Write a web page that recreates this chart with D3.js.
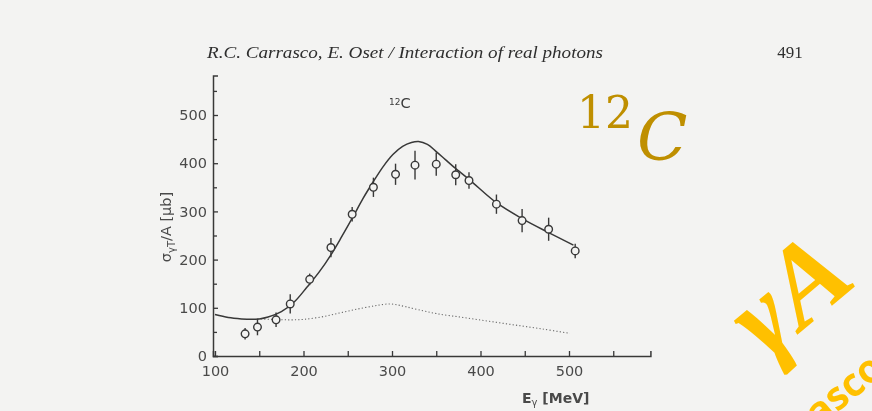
<!DOCTYPE html>
<html>
<head>
<meta charset="utf-8">
<script src="https://cdn.jsdelivr.net/npm/d3@7"></script>
<style>
  html, body { margin: 0; padding: 0; background: #f3f3f2; overflow: hidden; }
  svg { display: block; }
</style>
</head>
<body>
<svg id="chart" width="872" height="411"></svg>
<script>
// Measured total photoabsorption cross section per nucleon, 12C
const measE     = [134, 148, 169, 185, 207, 231, 255, 279, 304, 326, 350, 372, 387, 418, 447, 477, 507];
const measSigma = [ 46,  60,  75, 108, 159, 225, 294, 350, 377, 396, 398, 376, 364, 315, 281, 263, 218];
const measErr   = [ 12,  17,  15,  20,  12,  20,  15,  20,  22,  30,  24,  22,  17,  20,  24,  24,  15];

// Full calculation (solid line)
const calcE     = [100, 115, 130, 140, 150, 160, 175, 190, 204, 218, 231, 243, 256, 267, 279, 290, 301, 312, 322, 330, 340, 350, 360, 370, 388, 418, 447, 477, 505];
const calcSigma = [ 86,  80,  77,  76,  77,  81,  92, 113, 143, 175, 210, 247, 289, 326, 362, 393, 418, 435, 443, 445, 439, 424, 408, 392, 365, 318, 285, 256, 230];

// Partial contribution (dotted line)
const partE     = [148, 165, 185, 200, 220, 240, 260, 280, 290, 298, 306, 316, 330, 350, 380, 410, 440, 470, 501];
const partSigma = [ 77,  76,  75,  76,  81,  89,  97, 104, 107, 108, 106, 102,  96,  88,  80,  72,  64,  56,  47];

// Axis ticks
const xMajor = [100, 200, 300, 400, 500];
const xMinor = [150, 250, 350, 450, 550];
const yMajor = [0, 100, 200, 300, 400, 500];
const yMinor = [50, 150, 250, 350, 450, 550];
const xAxisEnd = 592;
const yAxisEnd = 582;

const headerText = "R.C. Carrasco, E. Oset / Interaction of real photons";
const pageNumber = "491";

const svg = d3.select("#chart");
const ink = "#383838";
const bg = "#f3f3f2";

const defs = svg.append("defs");
defs.append("filter").attr("id", "soft")
  .attr("x", "-5%").attr("y", "-5%").attr("width", "110%").attr("height", "110%")
  .append("feGaussianBlur").attr("stdDeviation", 0.45);

const x = d3.scaleLinear().domain([100, 500]).range([215, 569]);
const y = d3.scaleLinear().domain([0, 500]).range([356, 115]);
const xAx = x.copy().domain([100 - (215 - 213) / 0.885, xAxisEnd]).range([213, x(xAxisEnd)]);
const yAx = y.copy().domain([0, yAxisEnd]).range([356, y(yAxisEnd)]);

const page = svg.append("g").attr("filter", "url(#soft)");

// running header
page.append("text")
  .attr("x", 207).attr("y", 58)
  .attr("font-family", "Liberation Serif, serif")
  .attr("font-style", "italic")
  .attr("font-size", 17)
  .attr("fill", "#2e2e2e")
  .attr("textLength", 396).attr("lengthAdjust", "spacingAndGlyphs")
  .text(headerText);
page.append("text")
  .attr("x", 790).attr("y", 58)
  .attr("text-anchor", "middle")
  .attr("font-family", "Liberation Serif, serif")
  .attr("font-size", 17)
  .attr("fill", "#2e2e2e")
  .text(pageNumber);

// axes
const yAxisG = page.append("g").attr("transform", "translate(213,0)")
  .call(d3.axisLeft(yAx).tickValues(yMajor).tickSize(-5).tickPadding(6).tickFormat(d3.format("d")));
const yMinorG = page.append("g").attr("transform", "translate(213,0)")
  .call(d3.axisLeft(yAx).tickValues(yMinor).tickSize(-4).tickFormat(""));
const xAxisG = page.append("g").attr("transform", "translate(0,356)")
  .call(d3.axisBottom(xAx).tickValues(xMajor).tickSize(-5).tickPadding(10).tickFormat(d3.format("d")));
const xMinorG = page.append("g").attr("transform", "translate(0,356)")
  .call(d3.axisBottom(xAx).tickValues(xMinor).tickSize(-5).tickFormat(""));

[yAxisG, yMinorG, xAxisG, xMinorG].forEach(g => {
  g.select(".domain").attr("stroke", ink).attr("stroke-width", 1.5);
  g.selectAll(".tick line").attr("stroke", ink).attr("stroke-width", 1.3);
  g.selectAll(".tick text")
    .attr("fill", "#4a4a4a")
    .attr("font-family", "DejaVu Sans, sans-serif")
    .attr("font-size", 14.5);
});
yMinorG.select(".domain").remove();
xMinorG.select(".domain").remove();

// axis titles
const yTitle = page.append("text")
  .attr("transform", "translate(171,227) rotate(-90)")
  .attr("text-anchor", "middle")
  .attr("font-family", "DejaVu Sans, sans-serif")
  .attr("font-size", 14.5)
  .attr("fill", "#4a4a4a");
yTitle.append("tspan").text("σ");
yTitle.append("tspan").attr("font-size", 10).attr("dy", 4).text("γT");
yTitle.append("tspan").attr("dy", -4).text("/A  [μb]");

const xTitle = page.append("text")
  .attr("x", 522).attr("y", 403)
  .attr("font-family", "DejaVu Sans, sans-serif")
  .attr("font-size", 14)
  .attr("font-weight", "bold")
  .attr("fill", "#4a4a4a");
xTitle.append("tspan").text("E");
xTitle.append("tspan").attr("font-size", 10).attr("dy", 3).attr("font-weight", "normal").text("γ");
xTitle.append("tspan").attr("dy", -3).text(" [MeV]");

// nucleus label
const nuc = page.append("text")
  .attr("x", 389).attr("y", 108)
  .attr("font-family", "DejaVu Sans, sans-serif")
  .attr("fill", "#3a3a3a");
nuc.append("tspan").attr("font-size", 9).attr("dy", -3).text("12");
nuc.append("tspan").attr("font-size", 14.5).attr("dy", 3).text("C");

// curves
const line = d3.line().x(d => x(d[0])).y(d => y(d[1])).curve(d3.curveCatmullRom.alpha(0.5));
page.append("path")
  .datum(d3.zip(partE, partSigma))
  .attr("d", line)
  .attr("fill", "none")
  .attr("stroke", "#6a6a6a")
  .attr("stroke-width", 1.1)
  .attr("stroke-dasharray", "1.2,2.2");
page.append("path")
  .datum(d3.zip(calcE, calcSigma))
  .attr("d", line)
  .attr("fill", "none")
  .attr("stroke", ink)
  .attr("stroke-width", 1.5);

// data points with error bars
const pts = d3.zip(measE, measSigma, measErr);
const pg = page.append("g");
pg.selectAll("line.err").data(pts).join("line")
  .attr("class", "err")
  .attr("x1", d => x(d[0])).attr("x2", d => x(d[0]))
  .attr("y1", d => y(d[1] - d[2])).attr("y2", d => y(d[1] + d[2]))
  .attr("stroke", ink).attr("stroke-width", 1.4);
pg.selectAll("circle").data(pts).join("circle")
  .attr("cx", d => x(d[0])).attr("cy", d => y(d[1]))
  .attr("r", 3.8)
  .attr("fill", bg)
  .attr("stroke", ink).attr("stroke-width", 1.4);

// overlay lettering
const big = svg.append("text")
  .attr("x", 577).attr("y", 160)
  .attr("fill", "#bf8f00")
  .attr("font-family", "DejaVu Serif, serif");
big.append("tspan").attr("font-size", 44).attr("dy", -32).text("12");
big.append("tspan").attr("font-size", 66).attr("font-style", "italic").attr("dx", 4).attr("dy", 32).text("C");

svg.append("text")
  .attr("transform", "translate(766,361) rotate(-40)")
  .attr("fill", "#ffc000")
  .attr("font-family", "Liberation Serif, serif")
  .attr("font-style", "italic")
  .attr("font-weight", "bold")
  .attr("font-size", 112)
  .text("γA →");

svg.append("text")
  .attr("transform", "translate(886,372) rotate(-40)")
  .attr("text-anchor", "end")
  .attr("fill", "#ffc000")
  .attr("font-family", "Open Sans, sans-serif")
  .attr("font-weight", "bold")
  .attr("font-size", 39)
  .text("Carrasco");
</script>
</body>
</html>
